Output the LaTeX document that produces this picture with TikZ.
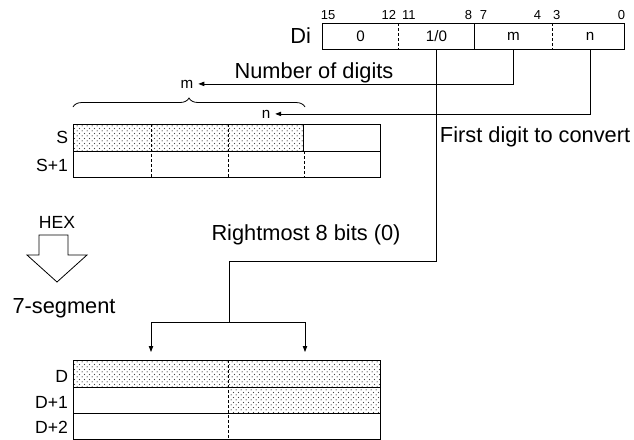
\documentclass[tikz,border=0pt]{standalone}
\usepackage{fontspec}
\setmainfont{Liberation Sans}
\usepackage{tikz}
\usetikzlibrary{arrows.meta,positioning,calc,patterns,decorations.pathreplacing}
\definecolor{DotGray}{RGB}{70,70,70}
\pgfdeclarepatternformonly{finedots}{\pgfpointorigin}{\pgfqpoint{2.4pt}{2.4pt}}{\pgfqpoint{2.4pt}{2.4pt}}{%
  \pgfpathcircle{\pgfqpoint{0.6pt}{0.6pt}}{0.33pt}%
  \pgfpathcircle{\pgfqpoint{1.8pt}{1.8pt}}{0.33pt}%
  \pgfusepath{fill}}

\begin{document}
\begin{tikzpicture}[x=0.5pt,y=-0.5pt,
    every node/.style={inner sep=0pt,outer sep=0pt},
    bigtxt/.style={font=\fontsize{10.9}{12}\selectfont},
    regtxt/.style={font=\fontsize{8.8}{10}\selectfont},
    celltxt/.style={font=\fontsize{7.6}{9}\selectfont},
    bittxt/.style={font=\fontsize{6.5}{7}\selectfont},
    cellbox/.style={celltxt,minimum height=13pt},
    stipple/.style={pattern=finedots,pattern color=DotGray},
    divline/.style={dash pattern=on 1.5pt off 1pt},
    regline/.style={line width=0.5pt},
    arr/.style={-{Triangle[length=3pt,width=2.2pt]}}]
        \useasboundingbox (0,0) rectangle (634,440);
        % Di word
        \draw[regline] (323,23) rectangle (625,49);
        \draw[regline] (475,23) -- (475,49);
        \draw[divline] (398,23) -- (398,49);
        \draw[divline] (552,23) -- (552,49);
        \node[cellbox,minimum width=37.5pt] (c0) at (360.5,36) {0};
        \node[cellbox,minimum width=38.5pt] (c10) at (436.5,36) {1/0};
        \node[cellbox,minimum width=38.5pt] (cm) at (513.5,36) {m};
        \node[cellbox,minimum width=36.5pt] (cn) at (590,36) {n};
        \node[bigtxt,anchor=east] (di) at (311,36) {Di};
        \node[bittxt,anchor=base west] (b15) at (321,19) {15};
        \node[bittxt,anchor=base east] (b12) at (396,19) {12};
        \node[bittxt,anchor=base west] (b11) at (402,19) {11};
        \node[bittxt,anchor=base east] (b8) at (472,19) {8};
        \node[bittxt,anchor=base west] (b7) at (480,19) {7};
        \node[bittxt,anchor=base east] (b4) at (541,19) {4};
        \node[bittxt,anchor=base west] (b3) at (553,19) {3};
        \node[bittxt,anchor=base east] (b0) at (625,19) {0};
        % digit count and first digit
        \node[bigtxt,anchor=base] (ndig) at (314,78) {Number of digits};
        \node[celltxt,anchor=base] (mlab) at (187,88) {m};
        \node[celltxt,anchor=base] (nlab) at (266,118) {n};
        \draw[arr,shorten >=2.5pt] (cm.south) |- (mlab.east);
        \draw[arr,shorten >=2.5pt] (cn.south) |- (nlab.east);
        \draw[decorate,decoration={brace,amplitude=4.5pt}] (73,107) -- (305,107);
        \node[bigtxt,anchor=base west] (first) at (440,142) {First digit to convert};
        % source words
        \fill[stipple] (74,124) rectangle (304,151);
        \draw[regline] (74,124) rectangle (381,177);
        \draw[regline] (74,151) -- (381,151);
        \draw[regline] (304,124) -- (304,151);
        \draw[divline] (151,124) -- (151,177);
        \draw[divline] (228,124) -- (228,177);
        \draw[divline] (304,151) -- (304,177);
        \node[regtxt,anchor=base east] (s0) at (68,143) {S};
        \node[regtxt,anchor=base east] (s1) at (68,171) {S+1};
        % conversion
        \node[regtxt,anchor=base] (hex) at (57,228) {HEX};
        \draw (39,235) -- (68,235) -- (68,255) -- (87,255) -- (57,282) -- (27,255) -- (39,255) -- cycle;
        \node[bigtxt,anchor=base] (seg) at (64,313) {7-segment};
        \node[bigtxt,anchor=base] (right8) at (306,240) {Rightmost 8 bits (0)};
        \coordinate (knee) at (229,261);
        \coordinate (split) at (229,322);
        \coordinate (dl) at (151,352);
        \coordinate (dr) at (305,352);
        \draw (c10.south) |- (knee) -- (split);
        \draw[arr] (split) -| (dl);
        \draw[arr] (split) -| (dr);
        % destination words
        \fill[stipple] (74,360) rectangle (381,387);
        \fill[stipple] (228,387) rectangle (381,413);
        \draw[regline] (74,360) rectangle (381,439);
        \draw[regline] (74,387) -- (381,387);
        \draw[regline] (74,413) -- (381,413);
        \draw[divline] (228,360) -- (228,439);
        \node[regtxt,anchor=base east] (d0) at (68,382) {D};
        \node[regtxt,anchor=base east] (d1) at (68,408) {D+1};
        \node[regtxt,anchor=base east] (d2) at (68,433) {D+2};
      \end{tikzpicture}
\end{document}
